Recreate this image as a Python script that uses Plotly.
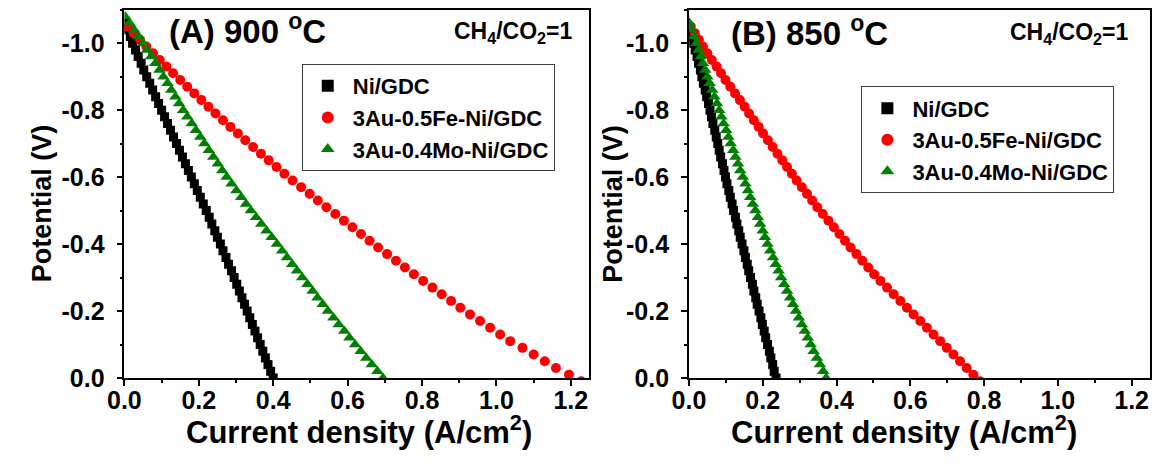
import plotly.graph_objects as go

# ---------------- data (A) 900 C ----------------
a_ni_v = [-1.06, -1.04, -1.02, -1.00, -0.98, -0.96, -0.94, -0.92, -0.90, -0.88, -0.86, -0.84, -0.82, -0.80,
          -0.78, -0.76, -0.74, -0.72, -0.70, -0.68, -0.66, -0.64, -0.62, -0.60, -0.58, -0.56, -0.54, -0.52,
          -0.50, -0.48, -0.46, -0.44, -0.42, -0.40, -0.38, -0.36, -0.34, -0.32, -0.30, -0.28, -0.26, -0.24,
          -0.22, -0.20, -0.18, -0.16, -0.14, -0.12, -0.10, -0.08, -0.06, -0.04, -0.02, 0.00]
a_ni_i = [0.004, 0.010, 0.016, 0.022, 0.030, 0.037, 0.045, 0.052, 0.060, 0.068, 0.076, 0.084, 0.092, 0.100,
          0.108, 0.116, 0.124, 0.132, 0.140, 0.148, 0.156, 0.164, 0.172, 0.180, 0.188, 0.196, 0.204, 0.212,
          0.220, 0.228, 0.235, 0.243, 0.250, 0.258, 0.265, 0.273, 0.280, 0.288, 0.295, 0.302, 0.309, 0.316,
          0.323, 0.330, 0.337, 0.344, 0.351, 0.358, 0.365, 0.372, 0.379, 0.386, 0.393, 0.400]

a_fe_v = [-1.05, -1.03, -1.01, -0.99, -0.97, -0.95, -0.93, -0.91, -0.89, -0.87, -0.85, -0.83, -0.81, -0.79,
          -0.77, -0.75, -0.73, -0.71, -0.69, -0.67, -0.65, -0.63, -0.61, -0.59, -0.57, -0.55, -0.53, -0.51,
          -0.49, -0.47, -0.45, -0.43, -0.41, -0.39, -0.37, -0.35, -0.33, -0.31, -0.29, -0.27, -0.25, -0.23,
          -0.21, -0.19, -0.17, -0.15, -0.13, -0.11, -0.09, -0.07, -0.05, -0.03, -0.01, 0.01]
a_fe_i = [0.008, 0.025, 0.042, 0.059, 0.077, 0.095, 0.113, 0.131, 0.150, 0.169, 0.188, 0.207, 0.226, 0.245,
          0.265, 0.285, 0.305, 0.325, 0.346, 0.367, 0.388, 0.409, 0.430, 0.452, 0.475, 0.498, 0.520, 0.543,
          0.567, 0.590, 0.613, 0.636, 0.659, 0.682, 0.706, 0.730, 0.754, 0.778, 0.803, 0.828, 0.853, 0.878,
          0.903, 0.929, 0.956, 0.983, 1.010, 1.037, 1.070, 1.100, 1.130, 1.160, 1.195, 1.228]

a_mo_v = [-1.08, -1.06, -1.04, -1.02, -1.00, -0.98, -0.96, -0.94, -0.92, -0.90, -0.88, -0.86, -0.84, -0.82,
          -0.80, -0.78, -0.76, -0.74, -0.72, -0.70, -0.68, -0.66, -0.64, -0.62, -0.60, -0.58, -0.56, -0.54,
          -0.52, -0.50, -0.48, -0.46, -0.44, -0.42, -0.40, -0.38, -0.36, -0.34, -0.32, -0.30, -0.28, -0.26,
          -0.24, -0.22, -0.20, -0.18, -0.16, -0.14, -0.12, -0.10, -0.08, -0.06, -0.04, -0.02, 0.00]
a_mo_i = [0.002, 0.014, 0.026, 0.038, 0.050, 0.061, 0.072, 0.083, 0.094, 0.105, 0.116, 0.126, 0.137, 0.147,
          0.158, 0.169, 0.181, 0.192, 0.204, 0.215, 0.227, 0.239, 0.251, 0.263, 0.275, 0.288, 0.301, 0.314,
          0.327, 0.340, 0.354, 0.368, 0.382, 0.396, 0.410, 0.424, 0.437, 0.451, 0.464, 0.478, 0.492, 0.506,
          0.519, 0.533, 0.547, 0.562, 0.576, 0.591, 0.605, 0.620, 0.635, 0.650, 0.665, 0.680, 0.695]

# ---------------- data (B) 850 C ----------------
b_ni_v = [-1.04, -1.02, -1.00, -0.98, -0.96, -0.94, -0.92, -0.90, -0.88, -0.86, -0.84, -0.82, -0.80,
          -0.78, -0.76, -0.74, -0.72, -0.70, -0.68, -0.66, -0.64, -0.62, -0.60, -0.58, -0.56, -0.54, -0.52,
          -0.50, -0.48, -0.46, -0.44, -0.42, -0.40, -0.38, -0.36, -0.34, -0.32, -0.30, -0.28, -0.26, -0.24,
          -0.22, -0.20, -0.18, -0.16, -0.14, -0.12, -0.10, -0.08, -0.06, -0.04, -0.02, 0.00]
b_ni_i = [0.004, 0.009, 0.013, 0.017, 0.022, 0.026, 0.031, 0.035, 0.039, 0.044, 0.048, 0.053, 0.057,
          0.061, 0.065, 0.070, 0.074, 0.078, 0.082, 0.086, 0.091, 0.095, 0.099, 0.103, 0.108, 0.112, 0.117,
          0.121, 0.126, 0.130, 0.135, 0.139, 0.144, 0.149, 0.153, 0.158, 0.162, 0.167, 0.172, 0.176, 0.181,
          0.185, 0.190, 0.195, 0.199, 0.204, 0.208, 0.213, 0.218, 0.222, 0.227, 0.231, 0.236]

b_fe_v = [-1.05, -1.03, -1.01, -0.99, -0.97, -0.95, -0.93, -0.91, -0.89, -0.87, -0.85, -0.83, -0.81, -0.79,
          -0.77, -0.75, -0.73, -0.71, -0.69, -0.67, -0.65, -0.63, -0.61, -0.59, -0.57, -0.55, -0.53, -0.51,
          -0.49, -0.47, -0.45, -0.43, -0.41, -0.39, -0.37, -0.35, -0.33, -0.31, -0.29, -0.27, -0.25, -0.23,
          -0.21, -0.19, -0.17, -0.15, -0.13, -0.11, -0.09, -0.07, -0.05, -0.03, -0.01, 0.01]
b_fe_i = [0.005, 0.016, 0.027, 0.038, 0.050, 0.062, 0.075, 0.087, 0.099, 0.112, 0.125, 0.138, 0.151, 0.163,
          0.176, 0.189, 0.201, 0.214, 0.227, 0.240, 0.253, 0.266, 0.279, 0.292, 0.306, 0.320, 0.334, 0.348,
          0.363, 0.378, 0.393, 0.408, 0.423, 0.438, 0.454, 0.470, 0.486, 0.502, 0.519, 0.537, 0.555, 0.573,
          0.591, 0.609, 0.627, 0.645, 0.663, 0.681, 0.699, 0.717, 0.735, 0.753, 0.771, 0.789]

b_mo_v = [-1.06, -1.04, -1.02, -1.00, -0.98, -0.96, -0.94, -0.92, -0.90, -0.88, -0.86, -0.84, -0.82, -0.80,
          -0.78, -0.76, -0.74, -0.72, -0.70, -0.68, -0.66, -0.64, -0.62, -0.60, -0.58, -0.56, -0.54, -0.52,
          -0.50, -0.48, -0.46, -0.44, -0.42, -0.40, -0.38, -0.36, -0.34, -0.32, -0.30, -0.28, -0.26, -0.24,
          -0.22, -0.20, -0.18, -0.16, -0.14, -0.12, -0.10, -0.08, -0.06, -0.04, -0.02, 0.00]
b_mo_i = [0.001, 0.007, 0.014, 0.020, 0.026, 0.032, 0.038, 0.044, 0.050, 0.056, 0.063, 0.069, 0.076, 0.082,
          0.088, 0.094, 0.101, 0.107, 0.113, 0.120, 0.126, 0.133, 0.139, 0.146, 0.153, 0.160, 0.166, 0.173,
          0.180, 0.187, 0.193, 0.200, 0.206, 0.213, 0.220, 0.228, 0.235, 0.243, 0.250, 0.258, 0.266, 0.274,
          0.282, 0.290, 0.298, 0.306, 0.314, 0.322, 0.330, 0.338, 0.347, 0.355, 0.364, 0.372]

names = ["Ni/GDC", "3Au-0.5Fe-Ni/GDC", "3Au-0.4Mo-Ni/GDC"]
x_ticks = [0.0, 0.2, 0.4, 0.6, 0.8, 1.0, 1.2]
y_ticks = [-1.0, -0.8, -0.6, -0.4, -0.2, 0.0]

FONT = "Arial, 'Liberation Sans', sans-serif"
W, H = 1154, 466

styles = [
    dict(symbol="square", color="#000000", size=9),
    dict(symbol="circle", color="#ff0000", size=10),
    dict(symbol="triangle-up", color="#008000", size=11),
]

fig = go.Figure()
panelA = [(a_ni_i, a_ni_v), (a_fe_i, a_fe_v), (a_mo_i, a_mo_v)]
panelB = [(b_ni_i, b_ni_v), (b_fe_i, b_fe_v), (b_mo_i, b_mo_v)]
for k, (xs, ys) in enumerate(panelA):
    fig.add_trace(go.Scatter(x=xs, y=ys, mode="markers", name=names[k],
                             marker=dict(symbol=styles[k]["symbol"], color=styles[k]["color"],
                                         size=styles[k]["size"], line=dict(width=0)),
                             xaxis="x", yaxis="y", legend="legend"))
for k, (xs, ys) in enumerate(panelB):
    fig.add_trace(go.Scatter(x=xs, y=ys, mode="markers", name=names[k],
                             marker=dict(symbol=styles[k]["symbol"], color=styles[k]["color"],
                                         size=styles[k]["size"], line=dict(width=0)),
                             xaxis="x2", yaxis="y2", legend="legend2"))


def px(x):
    return x / W


def py(y):
    return 1 - y / H


ydom = [py(389.7), py(10)]
tickfont = dict(family=FONT, size=25, color="black", weight="bold")
axis_common = dict(showline=True, linecolor="black", linewidth=1.6, mirror=True,
                   ticks="outside", ticklen=6, tickwidth=1.6, tickcolor="black",
                   showgrid=False, zeroline=False, tickfont=tickfont,
                   minor=dict(ticks="outside", ticklen=3, tickwidth=1.6, tickcolor="black", dtick=0.1))

legend_font = dict(family=FONT, size=22, color="black", weight="bold")

fig.update_layout(
    width=W, height=H,
    margin=dict(l=0, r=0, t=0, b=0),
    paper_bgcolor="white", plot_bgcolor="white",
    font=dict(family=FONT, color="black"),
    xaxis=dict(domain=[px(109), px(581)], range=[0, 1.25], tickvals=x_ticks,
               ticktext=[f"{v:.1f}" for v in x_ticks], anchor="y", ticklabelstandoff=-7, **axis_common),
    yaxis=dict(domain=ydom, range=[0, -1.1], tickvals=y_ticks,
               ticktext=[f"{v:.1f}" for v in y_ticks], anchor="x", ticklabelstandoff=7, **axis_common),
    xaxis2=dict(domain=[px(682), px(1150)], range=[0, 1.25], tickvals=x_ticks,
                ticktext=[f"{v:.1f}" for v in x_ticks], anchor="y2", ticklabelstandoff=-7, **axis_common),
    yaxis2=dict(domain=ydom, range=[0, -1.1], tickvals=y_ticks,
                ticktext=[f"{v:.1f}" for v in y_ticks], anchor="x2", ticklabelstandoff=7, **axis_common),
    legend=dict(x=px(289), y=py(66), xanchor="left", yanchor="top",
                bordercolor="#404040", borderwidth=1, bgcolor="white",
                font=legend_font, itemsizing="constant", itemwidth=40, tracegroupgap=0),
    legend2=dict(x=px(857), y=py(89), xanchor="left", yanchor="top",
                 bordercolor="#404040", borderwidth=1, bgcolor="white",
                 font=legend_font, itemsizing="constant", itemwidth=40, tracegroupgap=0),
    showlegend=True,
)

ann = []
bold = dict(family=FONT, color="black", weight="bold")
ann.append(dict(text="(A) 900 <sup>o</sup>C", x=px(234), y=py(30), font=dict(size=33, **bold)))
ann.append(dict(text="CH<sub>4</sub>/CO<sub>2</sub>=1", x=px(503), y=py(33), font=dict(size=23, **bold)))
ann.append(dict(text="(B) 850 <sup>o</sup>C", x=px(804), y=py(32), font=dict(size=33, **bold)))
ann.append(dict(text="CH<sub>4</sub>/CO<sub>2</sub>=1", x=px(1068), y=py(35), font=dict(size=23, **bold)))
ann.append(dict(text="Current density (A/cm<sup>2</sup>)", x=px(347), y=py(443), font=dict(size=31, **bold)))
ann.append(dict(text="Current density (A/cm<sup>2</sup>)", x=px(900), y=py(443), font=dict(size=31, **bold)))
ann.append(dict(text="Potential (V)", x=px(25), y=py(210), textangle=-90, font=dict(size=27, **bold)))
ann.append(dict(text="Potential (V)", x=px(605), y=py(210), textangle=-90, font=dict(size=27, **bold)))
for a in ann:
    a.update(xref="paper", yref="paper", showarrow=False, xanchor="center", yanchor="middle")
fig.update_layout(annotations=ann)

fig.write_html("out.html")
